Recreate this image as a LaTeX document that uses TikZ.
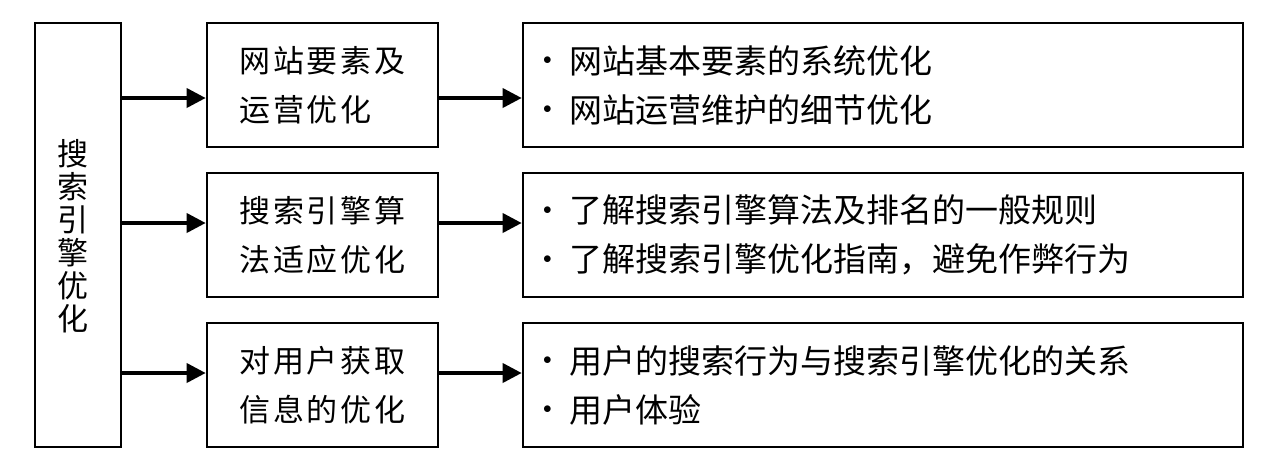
\documentclass[tikz,border=0pt]{standalone}
\usepackage{fontspec}
\newfontfamily\cjk{Noto Sans CJK SC}
\usetikzlibrary{arrows.meta}
\newcommand\bul{\makebox[26pt][l]{\raisebox{8.5pt}{\fontsize{16}{16}\selectfont$\bullet$}}}
\begin{document}
\begin{tikzpicture}[x=1pt,y=-1pt,
  box/.style={draw,line width=2.6pt,inner sep=0pt},
  arr/.style={line width=3.6pt,-{Triangle[length=19pt,width=19pt]}},
  lefttxt/.style={font=\cjk\fontsize{31}{33}\selectfont,align=center,inner sep=0pt},
  midbox/.style={box,minimum width=231pt,minimum height=124pt,align=left,
    font=\cjk\addfontfeature{LetterSpace=9}\fontsize{31}{49}\selectfont},
  rightbox/.style={box,minimum width=720pt,minimum height=124pt,inner xsep=20pt,
    text width=680pt,align=left,font=\cjk\fontsize{33}{49}\selectfont}]
\useasboundingbox (0,0) rectangle (1276,469);
\node[box,minimum width=86pt,minimum height=424pt] (L) at (78,235) {};
\node[lefttxt] (Lt) at (72.5,236) {搜\\索\\引\\擎\\优\\化};
\node[midbox] (M1) at (322.5,85) {网站要素及\\运营优化};
\node[midbox] (M2) at (322.5,235) {搜索引擎算\\法适应优化};
\node[midbox] (M3) at (322.5,385) {对用户获取\\信息的优化};
\node[rightbox] (R1) at (883,85) {\bul 网站基本要素的系统优化\\\bul 网站运营维护的细节优化};
\node[rightbox] (R2) at (883,235) {\bul 了解搜索引擎算法及排名的一般规则\\\bul 了解搜索引擎优化指南，避免作弊行为};
\node[rightbox] (R3) at (883,385) {\bul 用户的搜索行为与搜索引擎优化的关系\\\bul 用户体验};
\draw[arr] ([yshift=-13pt]M1.west -| L.east) -- ([yshift=-13pt]M1.west);
\draw[arr] ([yshift=12pt]M2.west -| L.east) -- ([yshift=12pt]M2.west);
\draw[arr] ([yshift=12pt]M3.west -| L.east) -- ([yshift=12pt]M3.west);
\draw[arr] ([yshift=-13pt]M1.east) -- ([yshift=-13pt]R1.west);
\draw[arr] ([yshift=12pt]M2.east) -- ([yshift=12pt]R2.west);
\draw[arr] ([yshift=12pt]M3.east) -- ([yshift=12pt]R3.west);
\end{tikzpicture}
\end{document}
